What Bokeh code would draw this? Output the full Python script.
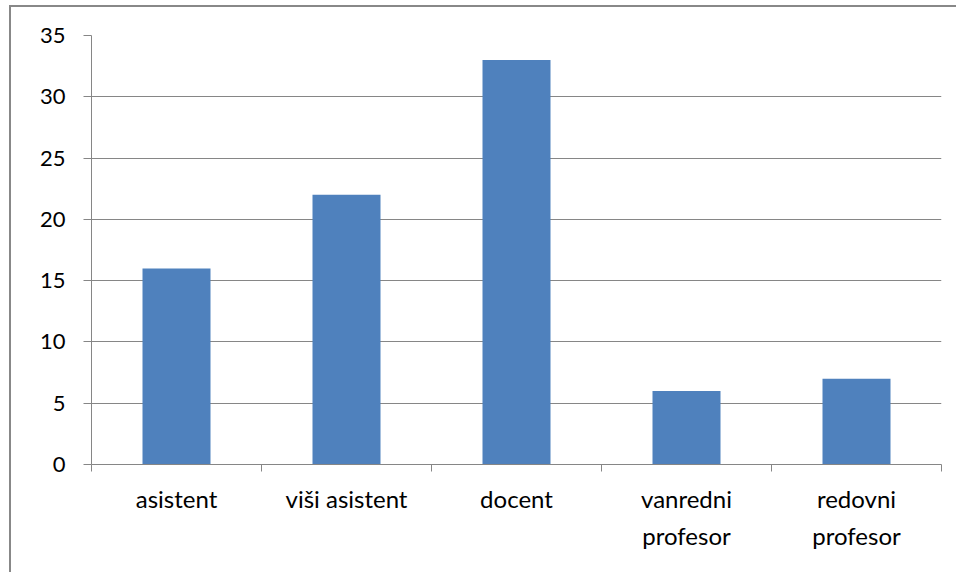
from bokeh.plotting import figure
from bokeh.models import Range1d, LinearAxis, FixedTicker
from bokeh.embed import file_html
from bokeh.resources import INLINE

categories = ["asistent", "viši asistent", "docent", "vanredni\nprofesor", "redovni\nprofesor"]
values = [16, 22, 33, 6, 7]
y_ticks = [0, 5, 10, 15, 20, 25, 30, 35]

GRAY = "#868686"
FONT = "Lato"

n = len(categories)
centers = [i + 0.5 for i in range(n)]
bounds = list(range(n + 1))

p = figure(width=947, height=567, output_backend="svg", toolbar_location=None,
           x_range=Range1d(0, n), y_range=Range1d(0, 35),
           x_axis_location=None, y_axis_location=None,
           min_border_left=80, min_border_right=17, min_border_top=28, min_border_bottom=110)

p.vbar(x=centers, top=values, width=0.4, color="#4F81BD", line_color=None)

p.outline_line_color = None
p.xgrid.grid_line_color = None
p.ygrid.grid_line_color = GRAY
p.ygrid.ticker = FixedTicker(ticks=y_ticks)
p.ygrid.grid_line_width = 1

# y axis
yax = LinearAxis(ticker=FixedTicker(ticks=y_ticks))
yax.axis_line_color = GRAY
yax.major_tick_line_color = GRAY
yax.major_tick_out = 8
yax.major_tick_in = 0
yax.minor_tick_line_color = None
yax.major_label_text_font = FONT
yax.major_label_text_font_size = "22px"
yax.major_label_text_color = "#000000"
yax.major_label_standoff = 18
p.add_layout(yax, "left")

# boundary tick axis
tax = LinearAxis(ticker=FixedTicker(ticks=bounds))
tax.axis_line_color = GRAY
tax.major_tick_line_color = GRAY
tax.major_tick_out = 7
tax.major_tick_in = 0
tax.minor_tick_line_color = None
tax.major_label_text_font_size = "0px"
tax.major_label_text_color = None
tax.major_label_standoff = 0
p.add_layout(tax, "below")

# category label axis
cax = LinearAxis(ticker=FixedTicker(ticks=centers))
cax.major_label_overrides = {c: lab for c, lab in zip(centers, categories)}
cax.axis_line_color = None
cax.major_tick_line_color = None
cax.minor_tick_line_color = None
cax.major_label_text_font = FONT
cax.major_label_text_font_size = "24px"
cax.major_label_text_line_height = 1.3
cax.major_label_text_color = "#000000"
cax.major_label_standoff = 6
p.add_layout(cax, "below")

p.styles = {"border-top": "2px solid #888888", "border-left": "2px solid #888888",
            "margin-left": "9px", "margin-top": "5px"}

open("out.html", "w").write(file_html(p, INLINE))
